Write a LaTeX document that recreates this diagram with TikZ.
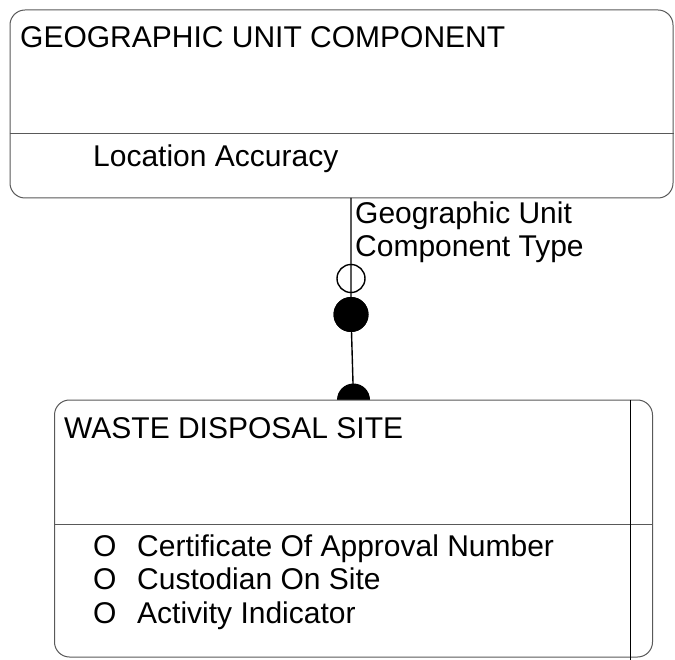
\documentclass[tikz,border=0pt]{standalone}
\usepackage{fontspec}
\setmainfont{Liberation Sans}
\usetikzlibrary{backgrounds}
\tikzset{
  entity/.style={draw=black!65, line width=1pt, rounded corners=15pt, fill=white, inner sep=0pt},
  label/.style={anchor=base west, inner sep=0pt, font=\fontsize{30}{33}\selectfont},
  rel/.style={draw=black, line width=1.4pt}
}

\begin{document}
\begin{tikzpicture}[x=1pt,y=-1pt]
          \useasboundingbox (0,0) rectangle (675,660);

          \node[entity, minimum width=663pt, minimum height=188pt] (guc) at (341.5,104) {};
          \draw[draw=black!65, line width=1pt] (guc.west |- 0,133.5) -- (guc.east |- 0,133.5);
          \node[label] (gucname) at (20,48) {GEOGRAPHIC UNIT COMPONENT};
          \node[label] (gucattr) at (93,167) {Location Accuracy};

          \coordinate (ctop) at (351,198);
          \coordinate (cbot) at (353.5,400);
          \node[circle, minimum size=28pt, inner sep=0pt] (opt) at (351,278.5) {};
          \node[circle, fill=black, minimum size=35pt, inner sep=0pt] (man) at (351,314.5) {};
          \draw[rel] (ctop) -- (opt.center) -- (man.center) -- (cbot);
          \draw[line width=1.4pt] (opt) circle (14pt);
          \node[circle, fill=black, minimum size=35pt, inner sep=0pt] at (man) {};
          \fill (cbot) ++(-16.5,0) arc[start angle=180, end angle=0, radius=16.5pt] -- cycle;

          \node[label] (rolename) at (355,224) {Geographic Unit};
          \node[label] (roletype) at (355,257) {Component Type};

          \node[entity, minimum width=598pt, minimum height=257pt] (wds) at (353.5,528.5) {};
          \draw[draw=black!65, line width=1pt] (wds.west |- 0,524.5) -- (wds.east |- 0,524.5);
          \draw[line width=0.9pt] (630,400) -- (630,660);
          \node[label] (wdsname) at (64,438) {WASTE DISPOSAL SITE};

          \node[label] (o1) at (93,556) {O};
          \node[label] (a1) at (137,556) {Certificate Of Approval Number};
          \node[label] (o2) at (93,589.5) {O};
          \node[label] (a2) at (137,589.5) {Custodian On Site};
          \node[label] (o3) at (93,623) {O};
          \node[label] (a3) at (137,623) {Activity Indicator};
\end{tikzpicture}
\end{document}
